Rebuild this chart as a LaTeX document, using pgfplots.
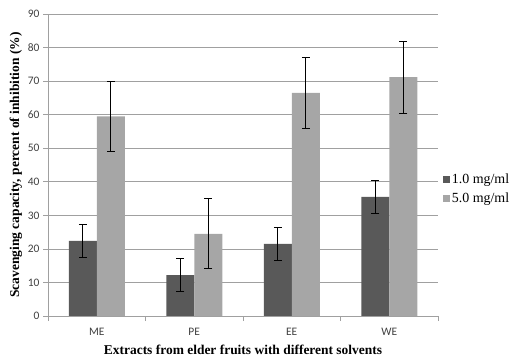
\documentclass[border=0pt]{standalone}
\usepackage{fontspec}
\setmainfont{Liberation Serif}
\newfontfamily\tickfont{Carlito}
\usepackage{pgfplots}
\pgfplotsset{compat=1.18}
\definecolor{darkbar}{HTML}{595959}
\definecolor{lightbar}{HTML}{A6A6A6}
\definecolor{gridc}{HTML}{A0A0A0}
\definecolor{tickc}{HTML}{404040}
\begin{document}
\begin{tikzpicture}
\useasboundingbox (0,0) rectangle (521bp,358bp);
\begin{axis}[
  at={(48bp,42bp)}, anchor=south west,
  scale only axis, width=390bp, height=302bp,
  ybar=0pt, bar width=28bp,
  xmin=-0.5, xmax=3.5, ymin=0, ymax=90,
  xtick={0,1,2,3}, xticklabels={ME,PE,EE,WE},
  major tick length=5bp,
  major x tick style={draw=none},
  extra x ticks={-0.5,0.5,1.5,2.5,3.5}, extra x tick labels={},
  extra x tick style={major x tick style={draw=gridc, line width=0.6pt}, grid=none},
  ytick={0,10,...,90},
  ymajorgrids, grid style={gridc, line width=0.6pt},
  axis x line*=bottom, axis y line*=left,
  axis line style={gridc, line width=0.6pt, -},
  major y tick style={draw=gridc, line width=0.6pt},
  tick align=outside,
  /pgf/number format/assume math mode=true,
  ticklabel style={font=\tickfont\fontsize{11.5}{13}\selectfont, text=tickc},
  xticklabel style={yshift=-4bp},
  xlabel={Extracts from elder fruits with different solvents},
  ylabel={Scavenging capacity, percent of inhibition (\%)},
  label style={font=\bfseries\fontsize{13.5}{15}\selectfont},
  xlabel style={yshift=8bp},
  ylabel style={yshift=-1bp},
  error bars/y dir=both, error bars/y explicit,
  error bars/error mark options={rotate=90, black, mark size=4bp, line width=0.8pt},
  error bars/error bar style={black, line width=0.8pt},
  legend style={at={(1.012,0.42)}, anchor=west, draw=none, fill=none,
    font=\fontsize{14}{16}\selectfont, row sep=4bp, inner sep=0pt},
  legend cell align=left,
  legend image code/.code={\fill[#1] (0bp,-3bp) rectangle (7bp,4bp);},
]
\addplot[fill=darkbar, draw=none] coordinates {
  (0,22.4) +- (0,4.9)
  (1,12.2) +- (0,4.85)
  (2,21.5) +- (0,4.9)
  (3,35.5) +- (0,4.8)
};
\addplot[fill=lightbar, draw=none] coordinates {
  (0,59.5) +- (0,10.5)
  (1,24.5) +- (0,10.4)
  (2,66.5) +- (0,10.5)
  (3,71.2) +- (0,10.7)
};
\legend{1.0 mg/ml, 5.0 mg/ml}
\end{axis}
\end{tikzpicture}
\end{document}
